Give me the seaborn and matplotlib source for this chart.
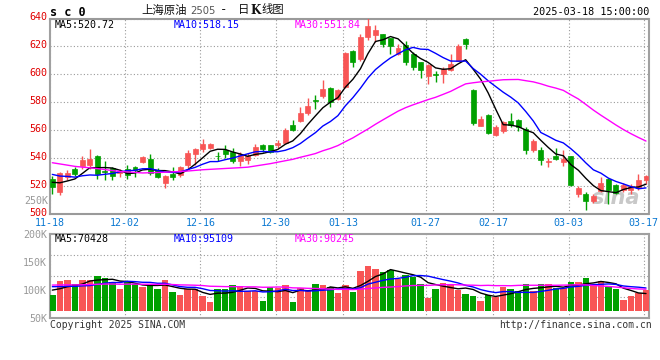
import numpy as np
import pandas as pd
import matplotlib
matplotlib.use("Agg")
import matplotlib.pyplot as plt
import matplotlib.transforms as mtransforms
import seaborn as sns

sns.set_style("white")
plt.rcParams['font.family'] = ['DejaVu Sans Mono', 'Noto Sans CJK SC']

# daily candles, 2024-11-18 .. 2025-03-18
open_ = [525.2, 515.4, 526.2, 532.3, 534.5, 535.2, 541.6, 530.7, 532.8, 529.5,
         532.3, 533.8, 536.9, 539.5, 531.4, 521.9, 529.0, 527.6, 535.2, 543.1,
         546.6, 547.6, 541.6, 545.7, 544.2, 538.3, 538.8, 542.1, 549.5, 549.5,
         549.5, 551.0, 563.8, 566.6, 572.4, 581.4, 584.3, 590.0, 582.4, 591.2,
         616.7, 610.9, 626.6, 628.1, 628.6, 625.7, 614.3, 620.9, 614.3, 608.8,
         598.6, 600.0, 600.0, 603.1, 609.7, 625.5, 588.8, 563.3, 571.2, 556.4,
         559.3, 566.4, 567.3, 560.7, 545.9, 545.9, 537.3, 541.6, 537.3, 541.2,
         514.5, 514.0, 509.2, 516.4, 525.4, 520.7, 516.9, 516.9, 518.3, 524.5]
close = [519.0, 529.2, 529.5, 528.8, 538.8, 539.7, 529.0, 530.0, 527.1, 530.9,
         527.6, 531.2, 540.9, 529.7, 526.2, 527.3, 526.6, 533.8, 543.8, 546.9,
         550.0, 550.0, 541.2, 543.1, 537.8, 542.8, 541.6, 548.1, 546.6, 544.3,
         550.5, 560.2, 560.2, 572.4, 577.6, 580.7, 589.5, 580.2, 588.6, 615.2,
         609.0, 627.1, 634.3, 632.1, 621.4, 620.5, 619.0, 609.0, 605.5, 602.8,
         606.6, 599.3, 604.0, 607.4, 620.2, 621.5, 565.5, 568.0, 558.3, 562.1,
         565.9, 564.0, 562.6, 545.9, 552.6, 538.8, 538.3, 539.2, 539.7, 520.7,
         518.8, 509.2, 513.1, 522.1, 516.9, 515.0, 520.7, 520.2, 524.0, 526.9]
high = [526.9, 530.0, 531.4, 533.8, 541.6, 546.6, 542.1, 538.1, 533.5, 531.9,
        535.2, 534.7, 541.6, 542.8, 532.8, 528.1, 533.5, 534.2, 545.9, 547.6,
        553.8, 550.7, 544.2, 549.5, 547.6, 544.2, 543.5, 550.0, 550.0, 549.7,
        553.1, 561.9, 567.4, 576.9, 582.8, 585.0, 595.7, 590.9, 589.5, 615.7,
        617.1, 628.6, 640.5, 635.2, 629.0, 626.2, 621.9, 623.8, 615.7, 608.8,
        607.1, 602.4, 605.0, 614.5, 621.6, 626.0, 589.3, 570.0, 571.6, 563.8,
        566.9, 572.6, 567.8, 562.6, 553.5, 547.8, 540.2, 547.3, 545.9, 541.6,
        519.7, 515.4, 514.0, 526.4, 525.9, 521.2, 522.1, 521.6, 528.8, 527.8]
low = [514.5, 513.3, 524.2, 526.9, 532.3, 532.1, 525.4, 524.0, 524.2, 526.4,
       525.2, 526.2, 536.4, 528.1, 525.7, 518.8, 524.5, 526.6, 532.6, 535.4,
       544.7, 546.6, 538.1, 540.2, 536.6, 534.2, 535.7, 541.4, 544.3, 544.0,
       547.6, 550.5, 559.7, 566.2, 571.0, 575.2, 583.3, 576.6, 581.4, 590.0,
       605.5, 609.5, 624.3, 623.3, 619.5, 614.7, 613.8, 606.6, 603.3, 597.1,
       592.8, 594.7, 594.0, 602.6, 609.3, 618.5, 563.5, 563.0, 557.3, 555.9,
       558.3, 562.6, 559.7, 543.1, 544.7, 535.4, 534.0, 538.8, 534.5, 519.7,
       512.1, 502.6, 507.8, 515.9, 507.3, 514.0, 515.9, 514.5, 517.3, 521.6]
# volume in thousands of lots
volume = [91.1, 116.1, 117.9, 110.1, 117.9, 117.9, 125.0, 121.4, 113.7, 101.8,
          113.7, 110.1, 106.0, 108.9, 101.8, 117.9, 95.8, 91.1, 101.2, 101.2,
          89.3, 78.0, 101.8, 101.8, 108.9, 107.1, 98.2, 98.2, 80.4, 105.4,
          103.0, 108.9, 78.6, 103.6, 98.8, 110.7, 108.9, 105.4, 94.6, 108.9,
          97.0, 133.9, 142.9, 137.5, 132.2, 135.7, 119.1, 126.8, 122.6, 110.7,
          86.3, 102.4, 112.5, 110.1, 99.4, 92.9, 89.9, 80.4, 91.1, 88.1,
          104.8, 102.4, 98.2, 110.7, 98.2, 110.7, 110.1, 103.0, 103.0, 114.3,
          114.3, 121.4, 110.1, 116.1, 105.4, 102.4, 82.1, 89.9, 94.0, 100.0]

# sessions before the window, only feeding the moving averages
prev_close = [555, 555.5, 555, 556, 552, 548, 550, 549, 549, 539,
              542, 552, 525, 521, 522, 518, 525, 535, 533, 536.5,
              541, 532, 534, 529, 534, 531, 523, 521.5, 519]
prev_volume = [112, 108, 115, 110, 106, 113, 109, 111, 114, 107,
               110, 112, 108, 111, 109, 113, 110, 107, 112, 108,
               115, 110, 113, 109, 113, 104, 100, 101, 103]

tick_idx = [0, 10, 20, 30, 39, 50, 59, 69, 79]
tick_labels = ['11-18', '12-02', '12-16', '12-30', '01-13', '01-27', '02-17', '03-03', '03-17']

ma_windows = [5, 10, 30]
ma_colors = ['black', '#0000ff', '#ff00ff']
price_ma_last = ['520.72', '518.15', '551.84']
vol_ma_last = ['70428', '95109', '90245']

RED = '#f85555'
GREEN = '#00a000'
GRID = '#9a9a9a'
BORDER = '#a0a0a0'

n = len(close)
x = np.arange(n)
o = np.array(open_)
c = np.array(close)
cols = np.where(c >= o, RED, GREEN)

W, H = 660, 360
fig = plt.figure(figsize=(6.6, 3.6), dpi=100)


def px_axes(left, top, right, bottom):
    return fig.add_axes([left / W, 1 - bottom / H, (right - left) / W, (bottom - top) / H])


def ftext(xp, yp, s, **kw):
    fig.text(xp / W, 1 - yp / H, s, va='center', **kw)


ax = px_axes(50, 18.5, 649, 214)
axv = px_axes(50, 234, 649, 318)

# ---- price panel
ax.vlines(x, low, high, colors=cols, lw=1.0, zorder=3)
body = np.maximum(np.abs(c - o), 0.6)
ax.bar(x, body, bottom=np.minimum(o, c), width=0.66, color=cols,
       edgecolor=cols, linewidth=0.5, zorder=4)

closes_all = pd.Series(prev_close + close)
for w, col in zip(ma_windows, ma_colors):
    ma = closes_all.rolling(w).mean().iloc[len(prev_close):].values
    sns.lineplot(x=x, y=ma, ax=ax, color=col, lw=1.0, legend=False, zorder=5)

ax.set_xlim(-0.31, 79.4)
ax.set_ylim(500, 640)
ax.set_yticks(np.arange(500, 641, 20))
ax.set_yticklabels([str(v) for v in range(500, 641, 20)], color='#e00000', fontsize=7.2)
ax.set_xticks([i - 0.3 for i in tick_idx])
ax.set_xticklabels(tick_labels, color='#0a78d2', fontsize=7.2)
ax.tick_params(length=0, pad=2)
ax.tick_params(axis='x', pad=3)
# price labels sit a touch above their grid lines
lift = mtransforms.ScaledTranslation(0, 2 / 100, fig.dpi_scale_trans)
for lab in ax.get_yticklabels():
    lab.set_transform(lab.get_transform() + lift)
ax.grid(True, ls=(0, (1, 2)), color=GRID, lw=0.8)
ax.set_axisbelow(True)
for side in ['left', 'right']:
    ax.spines[side].set_color(BORDER)
    ax.spines[side].set_linewidth(1.5)
for side in ['top', 'bottom']:
    ax.spines[side].set_color(GRID)
    ax.spines[side].set_linewidth(1.5)
    ax.spines[side].set_linestyle((0, (1, 1)))
ax.set_xlabel('')
ax.set_ylabel('')

# watermark
ax.text(0.985, 0.03, 'sina', transform=ax.transAxes, ha='right', va='bottom',
        fontsize=15, color='#c8c8c8', style='italic', fontweight='bold',
        family='DejaVu Sans', zorder=2)

# ---- volume panel
vol = np.array(volume) * 1000
vol_base = 62500
axv.bar(x, vol - vol_base, bottom=vol_base, width=0.86, color=cols, linewidth=0, zorder=3)
vols_all = pd.Series(prev_volume + volume) * 1000
for w, col in zip(ma_windows, ma_colors):
    ma = vols_all.rolling(w).mean().iloc[len(prev_volume):].values
    sns.lineplot(x=x, y=ma, ax=axv, color=col, lw=1.0, legend=False, zorder=5)

axv.set_xlim(-0.31, 79.4)
axv.set_ylim(50000, 200000)
axv.set_yticks([50000, 100000, 150000, 200000])
axv.set_yticklabels(['50K', '100K', '150K', '200K'], color='#999999', fontsize=7.2)
axv.set_yticks([87500, 125000, 162500], minor=True)
axv.set_xticks([i - 0.3 for i in tick_idx])
axv.set_xticklabels([])
axv.tick_params(length=0, pad=2, which='both')
axv.grid(True, axis='x', ls=(0, (1, 2)), color=GRID, lw=0.8)
axv.grid(True, axis='y', which='minor', ls=(0, (1, 2)), color=GRID, lw=0.8)
axv.set_axisbelow(True)
for side in axv.spines:
    axv.spines[side].set_color(BORDER)
    axv.spines[side].set_linewidth(1.5)
axv.set_xlabel('')
axv.set_ylabel('')

# ---- texts
ftext(50, 12, 's c 0', fontsize=8.5, fontweight='bold', color='black')
ftext(141, 10, '上海原油', fontsize=8.2, family=['Noto Sans CJK SC'], color='#111111')
ftext(190, 11, '2505', fontsize=7.2, family=['DejaVu Sans'], color='#555555')
ftext(220, 10, '-', fontsize=9, color='#111111')
ftext(238, 10, '日', fontsize=8.2, family=['Noto Sans CJK SC'], color='#111111')
ftext(250, 10, 'K', fontsize=8.5, family=['DejaVu Serif'], fontweight='bold', color='#111111')
ftext(261, 10, '线图', fontsize=8.2, family=['Noto Sans CJK SC'], color='#111111')
ftext(649, 12, '2025-03-18 15:00:00', fontsize=7.3, ha='right', color='black')

for xp, w, col, v in zip([55, 174, 295], ma_windows, ma_colors, price_ma_last):
    ftext(xp, 24.5, f'MA{w}:{v}', fontsize=7.2, color=col)
for xp, w, col, v in zip([55, 174, 295], ma_windows, ma_colors, vol_ma_last):
    ftext(xp, 239.5, f'MA{w}:{v}', fontsize=7.2, color=col)

ftext(48, 201, '250K', fontsize=7.2, ha='right', color='#999999')
ftext(50, 325, 'Copyright 2025 SINA.COM', fontsize=7.0, color='#333333')
ftext(652, 325, 'http://finance.sina.com.cn', fontsize=7.0, ha='right', color='#333333')

fig.savefig('out.png', dpi=100, facecolor='white')
